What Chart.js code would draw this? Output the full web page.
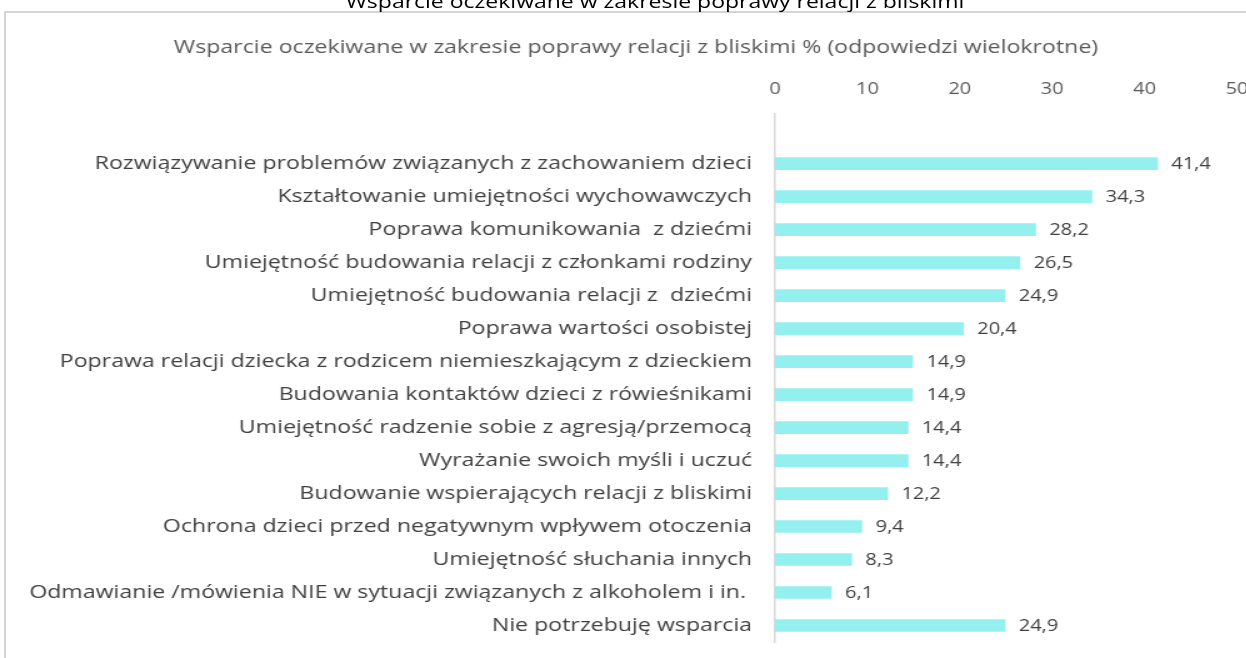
<!DOCTYPE html>
<html>
<head>
<meta charset="utf-8">
<script src="https://cdn.jsdelivr.net/npm/chart.js@4.4.1/dist/chart.umd.min.js"></script>
<style>
  html, body { margin: 0; padding: 0; width: 1246px; height: 658px; overflow: hidden; background: #ffffff; }
  #frame { position: absolute; left: 4px; top: 11px; width: 1300px; height: 700px;
    border-left: 2px solid #d4d4d4; border-top: 2px solid #d4d4d4; box-sizing: border-box; }
  #wrap { position: absolute; left: 0; top: 0; width: 1016px; height: 658px;
    transform: scaleX(1.25); transform-origin: 0 0; }
  #outerTitle { position: absolute; left: 0; top: -12px; width: 1048px; text-align: center;
    font-family: "Open Sans", sans-serif; font-size: 18.4px; color: #000; white-space: nowrap; }
  canvas { position: absolute; left: 0; top: 0; }
</style>
</head>
<body>
<div id="frame"></div>
<div id="wrap">
  <div id="outerTitle">Wsparcie oczekiwane w zakresie poprawy relacji z bliskimi</div>
  <canvas id="c" width="1016" height="658"></canvas>
</div>
<script>
const chartTitle = "Wsparcie oczekiwane w zakresie poprawy relacji z bliskimi % (odpowiedzi wielokrotne)";
const categories = [
  "",
  "Rozwiązywanie problemów związanych z zachowaniem dzieci",
  "Kształtowanie umiejętności wychowawczych",
  "Poprawa komunikowania  z dziećmi",
  "Umiejętność budowania relacji z członkami rodziny",
  "Umiejętność budowania relacji z  dziećmi",
  "Poprawa wartości osobistej",
  "Poprawa relacji dziecka z rodzicem niemieszkającym z dzieckiem",
  "Budowania kontaktów dzieci z rówieśnikami",
  "Umiejętność radzenie sobie z agresją/przemocą",
  "Wyrażanie swoich myśli i uczuć",
  "Budowanie wspierających relacji z bliskimi",
  "Ochrona dzieci przed negatywnym wpływem otoczenia",
  "Umiejętność słuchania innych",
  "Odmawianie /mówienia NIE w sytuacji związanych z alkoholem i in. ",
  "Nie potrzebuję wsparcia"
];
const values = [null, 41.4, 34.3, 28.2, 26.5, 24.9, 20.4, 14.9, 14.9, 14.4, 14.4, 12.2, 9.4, 8.3, 6.1, 24.9];
const xTicks = [0, 10, 20, 30, 40, 50];

const valueLabels = {
  id: 'valueLabels',
  afterLayout(chart) {
    if (chart.titleBlock) { chart.titleBlock.left += 28; }
  },
  afterDatasetsDraw(chart) {
    const ctx = chart.ctx;
    const meta = chart.getDatasetMeta(0);
    ctx.save();
    ctx.font = '16px "Open Sans", sans-serif';
    ctx.fillStyle = '#404040';
    ctx.textAlign = 'left';
    ctx.textBaseline = 'middle';
    meta.data.forEach((bar, i) => {
      const v = values[i];
      if (v === null || v === undefined) return;
      ctx.fillText(v.toFixed(1).replace('.', ','), bar.x + 11, bar.y + 1);
    });
    ctx.restore();
  }
};

new Chart(document.getElementById('c'), {
  type: 'bar',
  data: {
    labels: categories,
    datasets: [{
      data: values,
      backgroundColor: '#93F0EE',
      borderWidth: 0,
      barThickness: 12
    }]
  },
  plugins: [valueLabels],
  options: {
    indexAxis: 'y',
    responsive: false,
    animation: false,
    layout: { padding: { left: 0, right: 26.4, top: 0, bottom: 16 } },
    plugins: {
      legend: { display: false },
      tooltip: { enabled: false },
      title: {
        display: true,
        text: chartTitle,
        color: '#595959',
        font: { family: '"Open Sans", sans-serif', size: 18.5, weight: 'normal' },
        padding: { top: 37, bottom: 9 }
      }
    },
    scales: {
      x: {
        position: 'top',
        min: 0,
        max: 50,
        afterBuildTicks(scale) { scale.ticks = xTicks.map(v => ({ value: v })); },
        afterFit(scale) {
          scale.height = 46;
          scale.paddingLeft = 0; scale.paddingRight = 0;
        },
        grid: { display: false, drawTicks: false },
        border: { display: false },
        ticks: {
          color: '#595959',
          padding: 15,
          maxRotation: 0,
          font: { family: '"Open Sans", sans-serif', size: 16 }
        }
      },
      y: {
        afterFit(scale) {
          scale.width = 620;
          scale.paddingTop = 0; scale.paddingBottom = 0;
        },
        grid: { display: false, drawTicks: false },
        border: { display: true, color: '#d9d9d9', width: 1.6 },
        ticks: {
          color: '#404040',
          padding: 18.4,
          autoSkip: false,
          font: { family: '"Open Sans", sans-serif', size: 18.5 }
        }
      }
    }
  }
});
</script>
</body>
</html>
